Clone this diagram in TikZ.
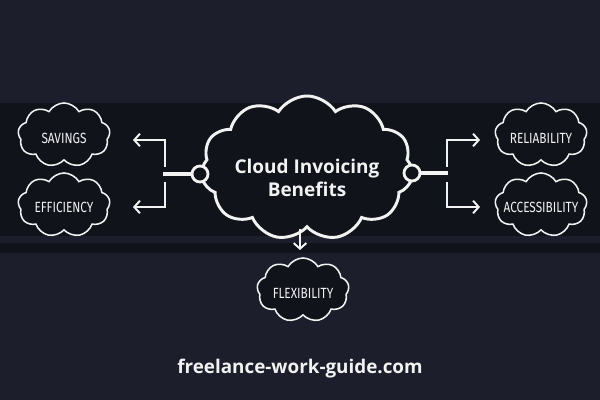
\documentclass[tikz,border=0pt]{standalone}
\usepackage{fontspec}
\usepackage{xcolor}
\usetikzlibrary{arrows.meta,positioning,shapes.symbols}
\setmainfont{Open Sans}
\newfontfamily\tagfont[FakeStretch=0.8]{Fira Sans}
\definecolor{pagebg}{RGB}{28,31,43}
\definecolor{bandbg}{RGB}{17,19,27}
\definecolor{chalk}{RGB}{242,242,242}

\begin{document}
\begin{tikzpicture}[x=0.025cm, y=-0.025cm,
  >={Straight Barb[length=4pt,width=9pt]},
  bubble/.style={cloud, cloud puffs=9, cloud puff arc=120, aspect=1.7,
    draw=chalk, line width=1.1pt, fill=bandbg, minimum width=2.3cm,
    minimum height=1.6cm, inner sep=0pt},
  tag/.style={text=chalk, inner sep=0pt,
    font=\tagfont\fontsize{10.5}{12}\selectfont},
  mainbubble/.style={cloud, cloud puffs=11, cloud puff arc=115, aspect=1.6,
    draw=chalk, line width=2.1pt, fill=bandbg, minimum width=5.3cm,
    minimum height=3.6cm, inner sep=0pt},
  headline/.style={text=chalk, align=center,
    font=\bfseries\fontsize{13.5}{16.5}\selectfont},
  knob/.style={circle, draw=chalk, line width=2pt, fill=bandbg,
    minimum size=0.4cm, inner sep=0pt},
  stem/.style={chalk, line width=2.8pt},
  arr/.style={->, chalk, line width=1.4pt}]
  % backdrop
  \fill[pagebg] (0,0) rectangle (600,400);
  \fill[bandbg] (0,103) rectangle (600,236);
  \fill[bandbg] (0,243) rectangle (600,253);
  \useasboundingbox (0,0) rectangle (600,400);

  % centre cloud
  \node[mainbubble] (main) at (307,168) {};
  \node[headline] (title) at (307,178) {Cloud Invoicing\\Benefits};
  \node[knob] (lknob) at (200,174) {};
  \node[knob] (rknob) at (412,173) {};

  % benefit clouds
  \node[bubble] (savings) at (64,135) {};
  \node[bubble] (efficiency) at (64,205) {};
  \node[bubble] (reliability) at (541,135) {};
  \node[bubble] (accessibility) at (541,205) {};
  \node[bubble] (flexibility) at (303,290) {};
  \node[tag] (savingstag) at (64,138) {SAVINGS};
  \node[tag] (efficiencytag) at (64,207) {EFFICIENCY};
  \node[tag] (reliabilitytag) at (541,138) {RELIABILITY};
  \node[tag] (accessibilitytag) at (541,207) {ACCESSIBILITY};
  \node[tag] (flexibilitytag) at (303,293) {FLEXIBILITY};

  % branch points
  \coordinate (ljoin) at (163,174);
  \coordinate (lup) at (165,167);
  \coordinate (ldown) at (165,182);
  \coordinate (rjoin) at (448,173);
  \coordinate (rup) at (447,167);
  \coordinate (rdown) at (447,182);
  \coordinate (savtip) at (133,140);
  \coordinate (efftip) at (133,207);
  \coordinate (reltip) at (480,140);
  \coordinate (acctip) at (480,207);
  \coordinate (flextip) at (300,250);

  \draw[stem] (lknob) -- (ljoin);
  \draw[stem] (rknob) -- (rjoin);
  \draw[arr] (lup) |- (savtip);
  \draw[arr] (ldown) |- (efftip);
  \draw[arr] (rup) |- (reltip);
  \draw[arr] (rdown) |- (acctip);
  \draw[arr] (flextip |- main.south) -- (flextip);

  \node[text=chalk, font=\bfseries\fontsize{13.4}{16}\selectfont] (site) at (300,369) {freelance-work-guide.com};
\end{tikzpicture}
\end{document}
